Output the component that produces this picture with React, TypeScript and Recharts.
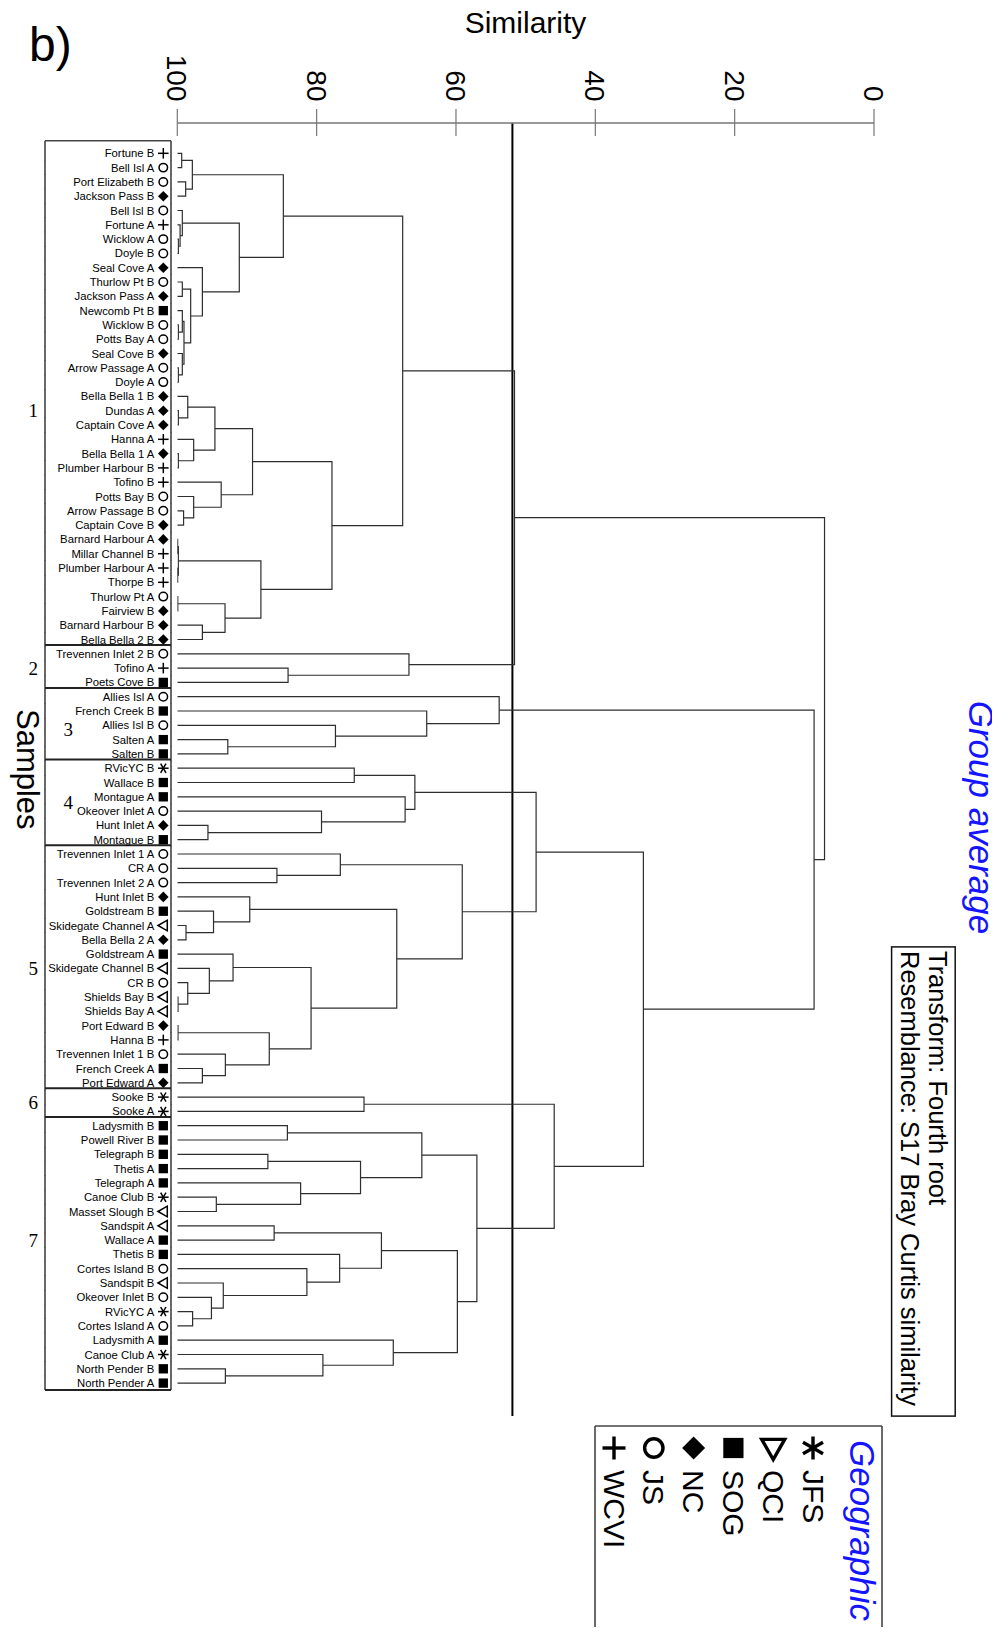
import React from "react";
import { ScatterChart, Scatter, XAxis, YAxis, ReferenceLine } from "recharts";

// leaves, top to bottom
const leafNames = [
  "Fortune B", "Bell Isl A", "Port Elizabeth B", "Jackson Pass B", "Bell Isl B",
  "Fortune A", "Wicklow A", "Doyle B", "Seal Cove A", "Thurlow Pt B",
  "Jackson Pass A", "Newcomb Pt B", "Wicklow B", "Potts Bay A", "Seal Cove B",
  "Arrow Passage A", "Doyle A", "Bella Bella 1 B", "Dundas A", "Captain Cove A",
  "Hanna A", "Bella Bella 1 A", "Plumber Harbour B", "Tofino B", "Potts Bay B",
  "Arrow Passage B", "Captain Cove B", "Barnard Harbour A", "Millar Channel B", "Plumber Harbour A",
  "Thorpe B", "Thurlow Pt A", "Fairview B", "Barnard Harbour B", "Bella Bella 2 B",
  "Trevennen Inlet 2 B", "Tofino A", "Poets Cove B", "Allies Isl A", "French Creek B",
  "Allies Isl B", "Salten A", "Salten B", "RVicYC B", "Wallace B",
  "Montague A", "Okeover Inlet A", "Hunt Inlet A", "Montague B", "Trevennen Inlet 1 A",
  "CR A", "Trevennen Inlet 2 A", "Hunt Inlet B", "Goldstream B", "Skidegate Channel A",
  "Bella Bella 2 A", "Goldstream A", "Skidegate Channel B", "CR B", "Shields Bay B",
  "Shields Bay A", "Port Edward B", "Hanna B", "Trevennen Inlet 1 B", "French Creek A",
  "Port Edward A", "Sooke B", "Sooke A", "Ladysmith B", "Powell River B",
  "Telegraph B", "Thetis A", "Telegraph A", "Canoe Club B", "Masset Slough B",
  "Sandspit A", "Wallace A", "Thetis B", "Cortes Island B", "Sandspit B",
  "Okeover Inlet B", "RVicYC A", "Cortes Island A", "Ladysmith A", "Canoe Club A",
  "North Pender B", "North Pender A",
];

const leafRegions = [
  "WCVI", "JS", "JS", "NC", "JS", "WCVI", "JS", "JS", "NC", "JS",
  "NC", "SOG", "JS", "JS", "NC", "JS", "JS", "NC", "NC", "NC",
  "WCVI", "NC", "WCVI", "WCVI", "JS", "JS", "NC", "NC", "WCVI", "WCVI",
  "WCVI", "JS", "NC", "NC", "NC", "JS", "WCVI", "SOG", "JS", "SOG",
  "JS", "SOG", "SOG", "JFS", "SOG", "SOG", "JS", "NC", "SOG", "JS",
  "JS", "JS", "NC", "SOG", "QCI", "NC", "SOG", "QCI", "JS", "QCI",
  "QCI", "NC", "WCVI", "JS", "SOG", "NC", "JFS", "JFS", "SOG", "SOG",
  "SOG", "SOG", "SOG", "JFS", "QCI", "QCI", "SOG", "SOG", "JS", "QCI",
  "JS", "JFS", "JS", "SOG", "JFS", "SOG", "SOG",
];

// legend order
const regionCodes = ["JFS", "QCI", "SOG", "NC", "JS", "WCVI"];

// [child a, child b, similarity]; positive = leaf number, negative = earlier merge number
const merges: [number, number, number][] = [
  [7, 8, 99.85], [6, -1, 99.6], [5, -2, 99.28], [1, 2, 99.37], [3, 4, 98.8],
  [-4, -5, 97.84], [10, 11, 99.28], [13, 14, 99.85], [12, -8, 99.28], [16, 17, 99.85],
  [15, -10, 99.28], [-9, -11, 99.04], [-7, -12, 98.08], [9, -13, 96.4], [-3, -14, 91.1],
  [-6, -15, 84.78], [19, 20, 99.85], [18, -17, 98.5], [22, 23, 99.85], [21, -19, 97.65],
  [-18, -20, 94.6], [26, 27, 99.1], [25, -22, 97.65], [24, -23, 93.7], [-21, -24, 89.2],
  [28, 29, 99.95], [30, 31, 99.95], [-26, -27, 99.85], [32, 33, 99.93], [34, 35, 96.4],
  [-29, -30, 93.15], [-28, -31, 88.0], [-25, -32, 77.8], [-16, -33, 67.65],
  [37, 38, 84.1], [36, -35, 66.75], [-34, -36, 51.6],
  [42, 43, 92.75], [41, -38, 77.3], [40, -39, 64.2], [39, -40, 53.8],
  [44, 45, 74.6], [48, 49, 95.6], [47, -43, 79.3], [46, -44, 67.3], [-42, -45, 65.9],
  [51, 52, 85.7], [50, -47, 76.6], [55, 56, 98.75], [54, -49, 94.8], [53, -50, 89.6],
  [60, 61, 99.9], [59, -52, 98.5], [58, -53, 95.4], [57, -54, 92.0], [62, 63, 99.9],
  [65, 66, 96.4], [64, -57, 93.1], [-56, -58, 86.8], [-55, -59, 80.8], [-51, -60, 68.5],
  [-48, -61, 59.1], [-46, -62, 48.5],
  [67, 68, 73.2],
  [69, 70, 84.2], [71, 72, 87.0], [74, 75, 94.4], [73, -67, 82.3], [-66, -68, 73.7],
  [-65, -69, 64.9], [76, 77, 86.1], [82, 83, 97.8], [81, -72, 95.1], [80, -73, 93.4],
  [79, -74, 81.4], [78, -75, 76.7], [-71, -76, 70.7], [86, 87, 93.1], [85, -78, 79.1],
  [84, -79, 69.0], [-77, -80, 59.8], [-70, -81, 57.0], [-64, -82, 45.9], [-63, -83, 33.1],
  [-41, -84, 8.6], [-37, -85, 7.1],
];

const similarityTicks = [100, 80, 60, 40, 20, 0];
const cutoffSimilarity = 51.9;

const groupLabels = ["1", "2", "3", "4", "5", "6", "7"];
const groupLastLeaf = [35, 38, 43, 49, 66, 68, 87];
const groupLabelLeaf = [19, 37, 41.3, 46.4, 58, 67.35, 77];

// layout
const W = 984;
const H = 1619;
const AXIS_H = 115;
const AXIS_W = 169.3;
const Y_DOMAIN: [number, number] = [-1.12, 89.3];
const PLOT_H = 1408 - AXIS_H;
const LEAF_STEP = PLOT_H / (Y_DOMAIN[1] - Y_DOMAIN[0]);
const FONT = "'Liberation Sans', Arial, Helvetica, sans-serif";
const LINE = "#2e2e2e";
const BLUE = "#1414ff";

// build the bracket polylines from the merge table
const nodeSim: number[] = [];
const nodePos: number[] = [];
const simOf = (c: number) => (c > 0 ? 100 : nodeSim[-c - 1]);
const posOf = (c: number) => (c > 0 ? c : nodePos[-c - 1]);
const brackets = merges.map(([a, b, s]) => {
  const pa = posOf(a);
  const pb = posOf(b);
  const pts = [
    { x: simOf(a), y: pa },
    { x: s, y: pa },
    { x: s, y: pb },
    { x: simOf(b), y: pb },
  ];
  nodeSim.push(s);
  nodePos.push((pa + pb) / 2);
  return pts;
});

const NoDot = () => <g />;

function Mark({ code, cx, cy, r, sw }: { code: string; cx: number; cy: number; r: number; sw: number }) {
  switch (code) {
    case "WCVI":
      return (
        <g stroke="#000" strokeWidth={sw}>
          <line x1={cx - r} x2={cx + r} y1={cy} y2={cy} />
          <line x1={cx} x2={cx} y1={cy - r} y2={cy + r} />
        </g>
      );
    case "JS":
      return <circle cx={cx} cy={cy} r={r * 0.8} fill="none" stroke="#000" strokeWidth={sw} />;
    case "NC":
      return <polygon points={`${cx},${cy - r} ${cx + r},${cy} ${cx},${cy + r} ${cx - r},${cy}`} fill="#000" />;
    case "SOG":
      return <rect x={cx - r * 0.88} y={cy - r * 0.88} width={r * 1.76} height={r * 1.76} fill="#000" />;
    case "QCI":
      return (
        <polygon
          points={`${cx - r},${cy} ${cx + r * 0.75},${cy - r} ${cx + r * 0.75},${cy + r}`}
          fill="none"
          stroke="#000"
          strokeWidth={sw}
          strokeLinejoin="miter"
        />
      );
    default: {
      const dx = r * 0.5;
      const dy = r * 0.87;
      return (
        <g stroke="#000" strokeWidth={sw}>
          <line x1={cx - r} x2={cx + r} y1={cy} y2={cy} />
          <line x1={cx - dx} x2={cx + dx} y1={cy - dy} y2={cy + dy} />
          <line x1={cx + dx} x2={cx - dx} y1={cy - dy} y2={cy + dy} />
        </g>
      );
    }
  }
}

const SimTick = (props: any) => {
  const { x, y, payload } = props;
  return (
    <g>
      <line x1={x} x2={x} y1={y - 14} y2={y + 13} stroke="#777" strokeWidth={1.2} />
      <text
        transform={`translate(${x},${y - 21.5}) rotate(90)`}
        textAnchor="end"
        dy="0.36em"
        fontSize={28}
        fontFamily={FONT}
        fill="#000"
      >
        {payload.value}
      </text>
    </g>
  );
};

const LeafTick = (props: any) => {
  const { x, y, payload } = props;
  const leaf = Math.round(payload.value);
  const name = leafNames[leaf - 1];
  const region = leafRegions[leaf - 1];
  const left = x - 132.3;
  const right = x - 6.3;
  const top = leaf === 1 ? y - 12.5 : y - 7.4;
  const bottom = leaf === leafNames.length ? y + 7 : y + 7.4;
  const g = groupLastLeaf.indexOf(leaf);
  const labelIdx = groupLabelLeaf.findIndex((v) => Math.floor(v) === leaf);
  const sepY = y + (leaf === leafNames.length ? 7 : 5.5);
  return (
    <g>
      <line x1={left} x2={left} y1={top} y2={bottom} stroke="#444" strokeWidth={1.6} />
      <line x1={right} x2={right} y1={top} y2={bottom} stroke="#444" strokeWidth={1.6} />
      {leaf === 1 && <line x1={left} x2={right} y1={top} y2={top} stroke="#444" strokeWidth={1.6} />}
      {g >= 0 && <line x1={left} x2={right} y1={sepY} y2={sepY} stroke="#222" strokeWidth={2} />}
      {labelIdx >= 0 && (
        <text
          x={labelIdx === 2 || labelIdx === 3 ? x - 109 : x - 144}
          y={y + (groupLabelLeaf[labelIdx] - leaf) * LEAF_STEP}
          dy="0.35em"
          textAnchor="middle"
          fontSize={19}
          fontFamily="'Liberation Serif', 'Times New Roman', serif"
          fill="#000"
        >
          {groupLabels[labelIdx]}
        </text>
      )}
      <text x={x - 23} y={y} dy="0.36em" textAnchor="end" fontSize={11.3} fontFamily={FONT} fill="#000">
        {name}
      </text>
      <Mark code={region} cx={x - 14} cy={y} r={5.3} sw={1.5} />
    </g>
  );
};

const legendX0 = 805;
const legendStep = 39.8;

export default function App() {
  return (
    <div style={{ position: "relative", width: W, height: H }}>
      <ScatterChart width={W} height={H} margin={{ top: 0, right: 118, bottom: 211, left: 0 }}>
        <XAxis
          type="number"
          dataKey="x"
          domain={[0, 100]}
          reversed
          allowDataOverflow
          orientation="top"
          ticks={similarityTicks}
          interval={0}
          height={AXIS_H}
          tickSize={0}
          tickMargin={0}
          tickLine={false}
          axisLine={{ stroke: "#777", strokeWidth: 1.6 }}
          tick={(p: any) => <SimTick {...p} />}
        />
        <YAxis
          type="number"
          dataKey="y"
          domain={Y_DOMAIN}
          reversed
          allowDataOverflow
          ticks={leafNames.map((_, i) => i + 1)}
          interval={0}
          width={AXIS_W}
          tickSize={0}
          tickMargin={0}
          tickLine={false}
          axisLine={false}
          tick={(p: any) => <LeafTick {...p} />}
        />
        <ReferenceLine x={cutoffSimilarity} stroke="#000" strokeWidth={2} />
        {brackets.map((pts, i) => (
          <Scatter
            key={i}
            data={pts}
            line={{ stroke: LINE, strokeWidth: 1.2 }}
            lineType="joint"
            stroke={LINE}
            fill={LINE}
            shape={NoDot}
            isAnimationActive={false}
          />
        ))}
      </ScatterChart>
      <svg
        width={W}
        height={H}
        style={{ position: "absolute", left: 0, top: 0, pointerEvents: "none", overflow: "visible" }}
        fontFamily={FONT}
      >
        <text x={21} y={53} fontSize={48} fill="#000">b)</text>
        <text x={517.5} y={24.5} fontSize={30} textAnchor="middle" fill="#000">Similarity</text>
        <text transform="translate(8.5,701) rotate(90)" fontSize={31} fill="#000">Samples</text>
        <text transform="translate(961,692.7) rotate(90)" fontSize={35} fontStyle="italic" fill={BLUE}>
          Group average
        </text>
        <rect x={883.6} y={938.9} width={63.6} height={469.2} fill="none" stroke="#111" strokeWidth={1.5} />
        <text transform="translate(921,943) rotate(90)" fontSize={25.5} fill="#000">Transform: Fourth root</text>
        <text transform="translate(892.5,943) rotate(90)" fontSize={25.5} fill="#000">
          Resemblance: S17 Bray Curtis similarity
        </text>
        <g stroke="#444" strokeWidth={1.6} fill="none">
          <line x1={587} x2={874} y1={1418} y2={1418} />
          <line x1={587} x2={587} y1={1418} y2={1640} />
          <line x1={874} x2={874} y1={1418} y2={1640} />
        </g>
        <text transform="translate(842,1432) rotate(90)" fontSize={35} fontStyle="italic" fill={BLUE}>
          Geographic
        </text>
        {regionCodes.map((code, i) => {
          const cx = legendX0 - i * legendStep;
          return (
            <g key={code}>
              <g transform={`rotate(-90, ${cx}, 1440)`}>
                <Mark code={code} cx={cx} cy={1440} r={11.5} sw={3.4} />
              </g>
              <text transform={`translate(${cx - 10.5},1462) rotate(90)`} fontSize={30} fill="#000">
                {code}
              </text>
            </g>
          );
        })}
      </svg>
    </div>
  );
}
